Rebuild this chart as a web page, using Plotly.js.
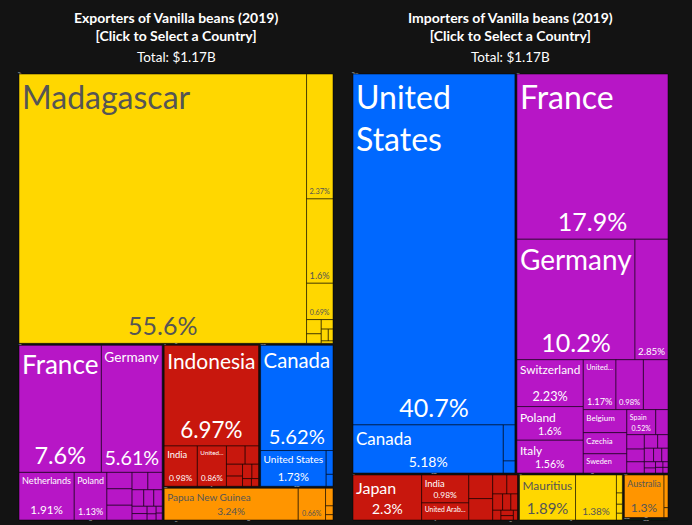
<!DOCTYPE html>
<html>
<head>
<meta charset="utf-8">
<script src="https://cdn.plot.ly/plotly-3.0.1.min.js"></script>
<style>html,body{margin:0;padding:0;background:#131313;}#chart{width:692px;height:525px;}</style>
</head>
<body>
<div id="chart"></div>
<script>
// ---------- Exporters of Vanilla beans (2019), share of world exports (%) ----------
const expCountries = ["Madagascar","Comoros","Uganda","Tanzania","Mauritius","South Africa","Kenya","Zimbabwe","Egypt","Nigeria",
  "France","Germany","Netherlands","Poland","Belgium","Spain","Italy","United Kingdom","Austria","Switzerland","Portugal","Czechia","Denmark","Sweden","Lithuania","Ireland","Estonia","Slovakia",
  "Indonesia","India","United Arab Emirates","China","Singapore","Japan","Sri Lanka","Malaysia","Turkey","Hong Kong","Vietnam",
  "Canada","United States","Mexico","Costa Rica",
  "Papua New Guinea","Tonga","Australia","New Zealand","Fiji"];
const expContinents = ["Africa","Africa","Africa","Africa","Africa","Africa","Africa","Africa","Africa","Africa",
  "Europe","Europe","Europe","Europe","Europe","Europe","Europe","Europe","Europe","Europe","Europe","Europe","Europe","Europe","Europe","Europe","Europe","Europe",
  "Asia","Asia","Asia","Asia","Asia","Asia","Asia","Asia","Asia","Asia","Asia",
  "North America","North America","North America","North America",
  "Oceania","Oceania","Oceania","Oceania","Oceania"];
const expValues = [55.6,2.37,1.6,0.69,0.15,0.1,0.08,0.06,0.04,0.02,
  7.6,5.61,1.91,1.13,0.3,0.3,0.27,0.2,0.18,0.14,0.12,0.1,0.08,0.07,0.05,0.04,0.03,0.03,
  6.97,0.98,0.86,0.25,0.18,0.14,0.12,0.1,0.07,0.05,0.04,
  5.62,1.73,0.12,0.06,
  3.24,0.66,0.1,0.05,0.03];
// b = name + share, p = share only, l = name only, "" = nothing shown
const expShow = ["b","p","p","p","","","","","","",
  "b","b","b","b","","","","","","","","","","","","","","",
  "b","b","b","","","","","","","","",
  "b","b","","",
  "b","p","","",""];
const expDisplay = {"United Arab Emirates":"United..."};

// ---------- Importers of Vanilla beans (2019), share of world imports (%) ----------
const impCountries = ["United States","Canada","Mexico","Guatemala",
  "France","Germany","Netherlands","Switzerland","United Kingdom","Austria","Denmark","Poland","Italy","Belgium","Spain","Czechia","Sweden","Norway","Finland","Portugal","Russia","Greece","Romania","Hungary","Lithuania","Slovakia","Ireland","Estonia","Latvia","Slovenia","Croatia","Bulgaria",
  "Japan","India","United Arab Emirates","South Korea","China","Singapore","Israel","Hong Kong","Turkey","Malaysia","Saudi Arabia","Thailand","Philippines","Vietnam",
  "Mauritius","South Africa","Morocco","Nigeria","Kenya","Egypt",
  "Australia","New Zealand","Fiji",
  "Brazil","Chile"];
const impContinents = ["North America","North America","North America","North America",
  "Europe","Europe","Europe","Europe","Europe","Europe","Europe","Europe","Europe","Europe","Europe","Europe","Europe","Europe","Europe","Europe","Europe","Europe","Europe","Europe","Europe","Europe","Europe","Europe","Europe","Europe","Europe","Europe",
  "Asia","Asia","Asia","Asia","Asia","Asia","Asia","Asia","Asia","Asia","Asia","Asia","Asia","Asia",
  "Africa","Africa","Africa","Africa","Africa","Africa",
  "Oceania","Oceania","Oceania",
  "South America","South America"];
const impValues = [40.7,5.18,0.3,0.1,
  17.9,10.2,2.85,2.23,1.17,0.98,0.88,1.6,1.56,0.72,0.52,0.66,0.6,0.22,0.18,0.16,0.14,0.13,0.1,0.09,0.08,0.06,0.05,0.04,0.03,0.03,0.02,0.02,
  2.3,0.98,0.6,0.42,0.38,0.2,0.15,0.12,0.1,0.08,0.06,0.05,0.04,0.03,
  1.89,1.38,0.08,0.05,0.04,0.03,
  1.3,0.1,0.03,
  0.05,0.03];
const impShow = ["b","b","","",
  "b","b","p","b","b","p","","b","b","l","b","l","l","","","","","","","","","","","","","","","",
  "b","b","l","","","","","","","","","","","",
  "b","p","","","","",
  "b","","",
  "",""];
const impDisplay = {"United States":"United<br>States","United Kingdom":"United...","United Arab Emirates":"United Arab..."};

// text size caps for a few wide, low tiles (style, not data)
const expNameSize = {"Papua New Guinea": 10};
const expPctSize = {"Papua New Guinea": 10};
const impNameSize = {"Canada": 17, "Japan": 16, "Australia": 11};
const impPctSize = {"Canada": 14, "Japan": 14, "Mauritius": 15, "Australia": 12};

const continentColors = {"Africa":"#FFD700","Europe":"#B716C6","Asia":"#C8170D","North America":"#0068FF","Oceania":"#FF9500","South America":"#1E8C3A"};
const darkText = {"Africa":true,"Oceania":true};
const BG = "#131313";
const FONT = "Lato, 'Open Sans', sans-serif";

function build(countries, continents, values, show, display, nameSizeMap, pctSizeMap, domainX) {
  const conts = [];
  continents.forEach(c => { if (conts.indexOf(c) < 0) conts.push(c); });
  const ids = ["World"].concat(conts.map(c => "c:" + c)).concat(countries);
  const labels = ["World"].concat(conts).concat(countries);
  const parents = [""].concat(conts.map(() => "World")).concat(continents.map(c => "c:" + c));
  const vals = [0].concat(conts.map(() => 0)).concat(values);
  const nb = 1 + conts.length;
  const colors = [], lineColors = [], lineWidths = [], nameText = [], pctText = [], txtColors = [], nameSize = [], pctSize = [];
  for (let i = 0; i < ids.length; i++) {
    if (i < nb) {
      colors.push(BG); lineColors.push(BG); lineWidths.push(0);
      nameText.push(""); pctText.push(""); txtColors.push("#fff"); nameSize.push(12); pctSize.push(12);
    } else {
      const k = i - nb, cont = continents[k], s = show[k], r = Math.sqrt(values[k]), nm = countries[k];
      colors.push(continentColors[cont]);
      lineColors.push("rgba(0,0,0,0.5)"); lineWidths.push(1);
      nameText.push((s === "b" || s === "l") ? (display[nm] || nm) : "");
      pctText.push((s === "b" || s === "p") ? (values[k] + "%") : "");
      txtColors.push(darkText[cont] ? "#555555" : "#ffffff");
      nameSize.push(nameSizeMap[nm] || Math.max(7, Math.min(32, 9.5 * r)));
      pctSize.push(pctSizeMap[nm] || Math.max(7, Math.min(25, 8.5 * r)));
    }
  }
  const domain = {x: domainX, y: [3/525, 453/525]};
  const common = {
    type: "treemap", ids: ids, labels: labels, parents: parents, values: vals,
    branchvalues: "remainder", sort: true, domain: domain,
    tiling: {packing: "squarify", squarifyratio: 1.618, pad: 0},
    pathbar: {visible: false}, textinfo: "text", hoverinfo: "skip"
  };
  const tA = Object.assign({}, common, {
    text: nameText, textposition: "top left",
    textfont: {family: FONT, size: nameSize, color: txtColors},
    marker: {colors: colors, line: {color: lineColors, width: lineWidths}, pad: {t: 1, l: 1, r: 1, b: 1}}
  });
  const tB = Object.assign({}, common, {
    text: pctText, textposition: "bottom center",
    textfont: {family: FONT, size: pctSize, color: txtColors},
    marker: {colors: ids.map(() => "rgba(0,0,0,0)"), line: {width: 0}, pad: {t: 1, l: 1, r: 1, b: 1}}
  });
  return [tA, tB];
}

const traces = build(expCountries, expContinents, expValues, expShow, expDisplay, expNameSize, expPctSize, [17/692, 335/692])
  .concat(build(impCountries, impContinents, impValues, impShow, impDisplay, impNameSize, impPctSize, [351/692, 670/692]));

const titleFont = {family: FONT, size: 14, color: "#ffffff"};
const layout = {
  width: 692, height: 525,
  margin: {l: 0, r: 0, t: 0, b: 0},
  paper_bgcolor: BG, plot_bgcolor: BG,
  showlegend: false,
  annotations: [
    {text: "<b>Exporters of Vanilla beans (2019)</b><br><b>[Click to Select a Country]</b>", x: 176/692, y: 1 - 7/525, xref: "paper", yref: "paper", xanchor: "center", yanchor: "top", showarrow: false, font: titleFont},
    {text: "Total: $1.17B", x: 176/692, y: 1 - 57/525, xref: "paper", yref: "paper", xanchor: "center", yanchor: "middle", showarrow: false, font: {family: FONT, size: 13.5, color: "#ffffff"}},
    {text: "<b>Importers of Vanilla beans (2019)</b><br><b>[Click to Select a Country]</b>", x: 510/692, y: 1 - 7/525, xref: "paper", yref: "paper", xanchor: "center", yanchor: "top", showarrow: false, font: titleFont},
    {text: "Total: $1.17B", x: 510/692, y: 1 - 57/525, xref: "paper", yref: "paper", xanchor: "center", yanchor: "middle", showarrow: false, font: {family: FONT, size: 13.5, color: "#ffffff"}}
  ]
};
Plotly.newPlot("chart", traces, layout, {displayModeBar: false, staticPlot: true});
</script>
</body>
</html>
